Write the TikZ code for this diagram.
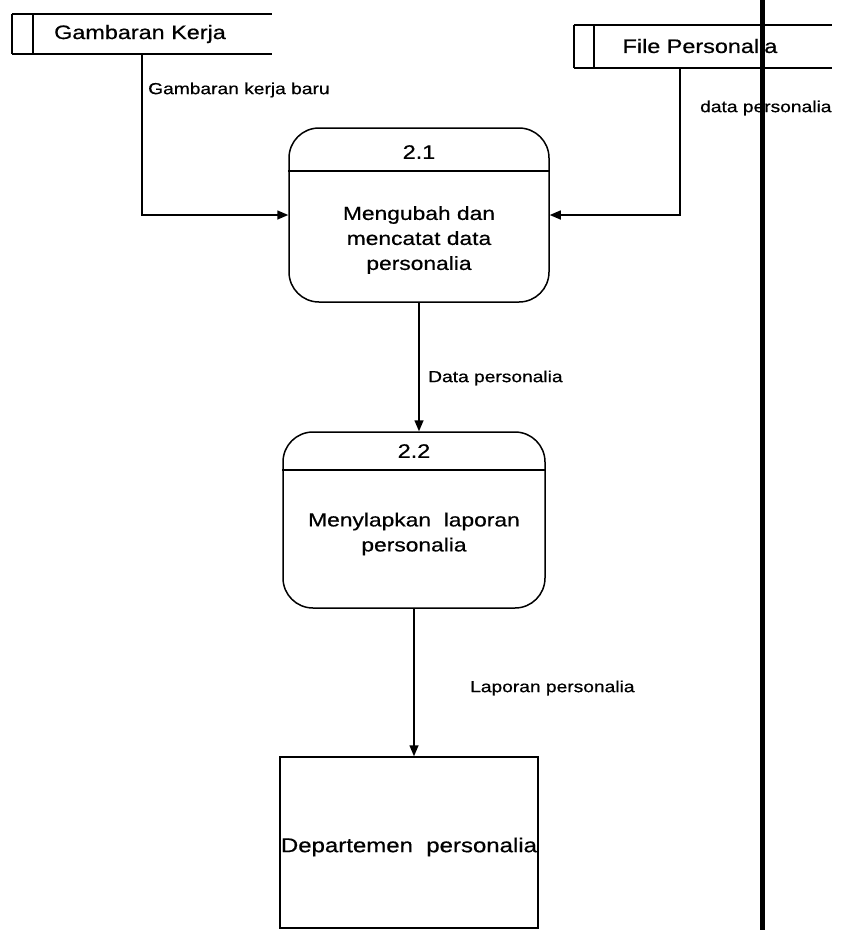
\documentclass[tikz,border=0pt]{standalone}
\usepackage{fontspec}
\setmainfont{Liberation Sans}[FakeStretch=1.2,FakeBold=0.6]
\usetikzlibrary{arrows.meta}
\begin{document}
\begin{tikzpicture}[x=1pt,y=-1pt,
  edge/.style={line width=1.5pt},
  flow/.style={line width=1.5pt,-{Triangle[length=11pt,width=9pt]}},
  proc/.style={draw,line width=1.5pt,rounded corners=30pt,inner sep=0pt},
  store/.style={inner sep=0pt},
  entity/.style={draw,line width=1.5pt,inner sep=0pt},
  lbl/.style={font=\fontsize{16}{19}\selectfont,anchor=west,inner sep=0pt},
  stxt/.style={font=\fontsize{19.5}{22}\selectfont,inner sep=0pt},
  ptxt/.style={font=\fontsize{19}{25}\selectfont,align=center,inner sep=0pt}
]
\useasboundingbox (0,0) rectangle (850,930);

% data store: Gambaran Kerja
\node[store,minimum width=260pt,minimum height=40pt] (gk) at (142,34) {};
\draw[edge] (gk.north west) -- (gk.north east)
            (gk.south west) -- (gk.south east)
            (gk.north west) -- (gk.south west)
            ([xshift=21pt]gk.north west) -- ([xshift=21pt]gk.south west);
\node[stxt] (gkt) at (140,34) {Gambaran Kerja};

% data store: File Personalia
\node[store,minimum width=258pt,minimum height=43pt] (fp) at (703,46.5) {};
\draw[edge] (fp.north west) -- (fp.north east)
            (fp.south west) -- (fp.south east)
            (fp.north west) -- (fp.south west)
            ([xshift=20pt]fp.north west) -- ([xshift=20pt]fp.south west);
\node[stxt] (fpt) at (700,46) {File Personalia};

% process 2.1
\node[proc,minimum width=260pt,minimum height=174pt] (p1) at (419,215) {};
\draw[edge] (p1.west |- 0,171) -- (p1.east |- 0,171);
\node[stxt] (p1n) at (419,152) {2.1};
\node[ptxt] (p1t) at (419,240) {Mengubah dan\\mencatat data\\personalia};

% process 2.2
\node[proc,minimum width=262pt,minimum height=176pt] (p2) at (414,520) {};
\draw[edge] (p2.west |- 0,470) -- (p2.east |- 0,470);
\node[stxt] (p2n) at (414,451) {2.2};
\node[ptxt] (p2t) at (414,534) {Menylapkan\ \ laporan\\personalia};

% external entity
\node[entity,minimum width=258pt,minimum height=171pt] (dp) at (409,842.5) {};
\node[font=\fontsize{20}{24}\selectfont,inner sep=0pt] (dpt) at (409,847) {Departemen\ \ personalia};

% data flows
\draw[flow] (gk.south) |- (p1.west);
\draw[flow] ([xshift=-23pt]fp.south) |- (p1.east);
\draw[flow] (p1.south) -- (p1.south |- p2.north);
\draw[flow] (p2.south) -- (p2.south |- dp.north);

% flow labels
\node[lbl] (l1) at (148,90) {Gambaran kerja baru};
\node[lbl] (l2) at (700,108) {data personalia};
\node[lbl] (l3) at (428,378) {Data personalia};
\node[lbl] (l4) at (470,688) {Laporan personalia};

% vertical page divider, drawn over the text it crosses
\draw[line width=5pt] (762,0) -- (762,930);
\end{tikzpicture}
\end{document}
